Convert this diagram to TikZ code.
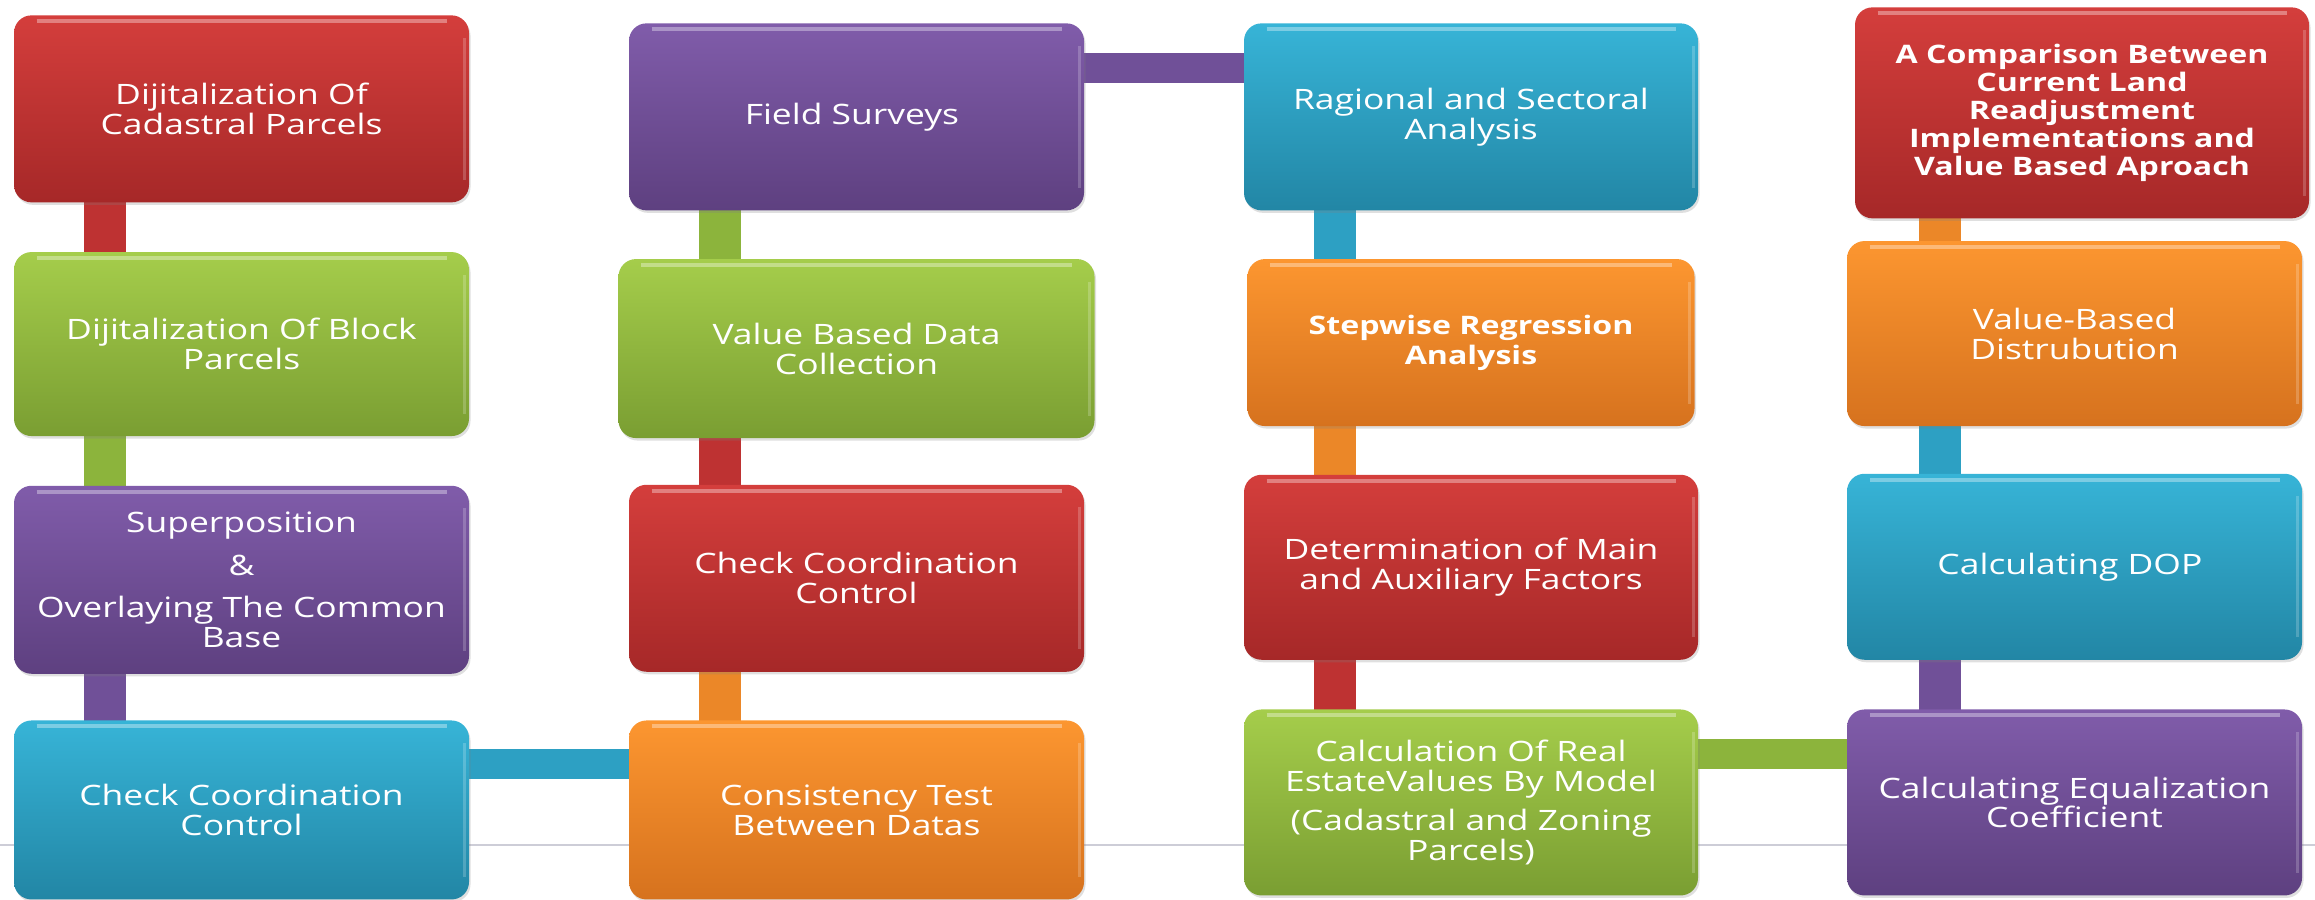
\documentclass[tikz,border=0pt]{standalone}
\usepackage{fontspec}
\newfontfamily\boxfont{Open Sans}[FakeStretch=1.26]
\usepackage{tikz}
\usetikzlibrary{
  positioning,
  calc,
  backgrounds,
  shadows
}
\definecolor{redtop}{RGB}{212, 62, 60}
\definecolor{redbot}{RGB}{166, 40, 40}
\definecolor{redbar}{RGB}{190, 50, 50}
\definecolor{greentop}{RGB}{165, 205, 75}
\definecolor{greenbot}{RGB}{122, 158, 50}
\definecolor{greenbar}{RGB}{140, 180, 60}
\definecolor{purpletop}{RGB}{128, 92, 170}
\definecolor{purplebot}{RGB}{94, 64, 128}
\definecolor{purplebar}{RGB}{112, 80, 152}
\definecolor{bluetop}{RGB}{55, 180, 215}
\definecolor{bluebot}{RGB}{34, 134, 165}
\definecolor{bluebar}{RGB}{45, 160, 195}
\definecolor{orangetop}{RGB}{252, 150, 48}
\definecolor{orangebot}{RGB}{214, 114, 30}
\definecolor{orangebar}{RGB}{235, 135, 40}
\definecolor{rulecolor}{RGB}{205, 205, 215}
\tikzset{
boxtext/.style={
  align=center,
  text=white,
  font=\boxfont\fontsize{16}{17}\selectfont
},
blockbase/.style={
  rectangle,
  rounded corners=0.35cm,
  minimum width=9.10cm,
  minimum height=3.74cm,
  inner sep=0pt,
  drop shadow={opacity=0.25, shadow xshift=0.03cm, shadow yshift=-0.05cm},
  % brilho fino no topo e na borda direita
  path picture={
    \draw[white, opacity=0.35, line width=0.08cm]
      ([xshift=0.45cm, yshift=-0.12cm]path picture bounding box.north west) --
      ([xshift=-0.45cm, yshift=-0.12cm]path picture bounding box.north east);
    \draw[white, opacity=0.2, line width=0.06cm]
      ([xshift=-0.1cm, yshift=-0.45cm]path picture bounding box.north east) --
      ([xshift=-0.1cm, yshift=0.45cm]path picture bounding box.south east);
  },
  boxtext
},
redblock/.style={blockbase, top color=redtop, bottom color=redbot},
greenblock/.style={blockbase, top color=greentop, bottom color=greenbot},
purpleblock/.style={blockbase, top color=purpletop, bottom color=purplebot},
blueblock/.style={blockbase, top color=bluetop, bottom color=bluebot},
orangeblock/.style={blockbase, top color=orangetop, bottom color=orangebot},
vbar/.style={
  draw=#1,
  line width=0.84cm,
  shorten <=-0.1cm,
  shorten >=-0.1cm
},
hbar/.style={
  draw=#1,
  line width=0.6cm,
  shorten <=-0.1cm,
  shorten >=-0.1cm
},
footrule/.style={
  draw=rulecolor,
  line width=0.04cm
}
}

\begin{document}
\begin{tikzpicture}

\useasboundingbox (0,0) rectangle (46.3,-17.98);

% ============================================================================
% Coluna 1: digitalizacao
% ============================================================================

\node[redblock, anchor=north] (cadastral) at (4.83,-0.30) {
    Dijitalization Of\\Cadastral Parcels
};
\node[greenblock, minimum height=3.68cm, below=0.98cm of cadastral] (blockparc) {
    Dijitalization Of Block\\Parcels
};
\node[purpleblock, minimum height=3.76cm, below=0.98cm of blockparc] (superpos) {
    Superposition\\[7pt]\&\\[7pt]Overlaying The Common\\Base
};
\node[blueblock, minimum height=3.58cm, below=0.92cm of superpos] (checkA) {
    Check Coordination\\Control
};

% ============================================================================
% Coluna 2: coleta de dados
% ============================================================================

\node[purpleblock, anchor=north] (field) at (17.13,-0.46) {
    Field Surveys
};
\node[greenblock, minimum width=9.52cm, minimum height=3.58cm, below=0.96cm of field] (valuedata) {
    Value Based Data\\Collection
};
\node[redblock, below=0.92cm of valuedata] (checkB) {
    Check Coordination\\Control
};
\node[orangeblock, minimum height=3.58cm, below=0.96cm of checkB] (consist) {
    Consistency Test\\Between Datas
};

% ============================================================================
% Coluna 3: analise e modelo
% ============================================================================

\node[blueblock, anchor=north, minimum width=9.08cm] (regional) at (29.42,-0.46) {
    Ragional and Sectoral\\Analysis
};
\node[orangeblock, font=\boxfont\bfseries\fontsize{14.5}{17}\selectfont, minimum width=8.94cm, minimum height=3.34cm, below=0.96cm of regional] (stepwise) {
    Stepwise Regression\\Analysis
};
\node[redblock, minimum width=9.08cm, minimum height=3.70cm, below=0.96cm of stepwise] (factors) {
    Determination of Main\\and Auxiliary Factors
};
\node[greenblock, minimum width=9.08cm, minimum height=3.72cm, below=0.98cm of factors] (estate) {
    Calculation Of Real\\EstateValues By Model\\[5pt](Cadastral and Zoning\\Parcels)
};

% ============================================================================
% Coluna 4: distribuicao
% ============================================================================

\node[redblock, font=\boxfont\bfseries\fontsize{14.5}{16}\selectfont, anchor=north, minimum width=9.08cm, minimum height=4.22cm] (compare) at (41.64,-0.14) {
    A Comparison Between\\Current Land\\Readjustment\\Implementations and\\Value Based Aproach
};
\node[orangeblock, minimum height=3.70cm, below=0.44cm of compare, xshift=-0.15cm] (distrib) {
    Value-Based\\Distrubution
};
\node[blueblock, minimum height=3.72cm, below=0.94cm of distrib] (dop) {
    Calculating DOP
};
\node[purpleblock, minimum height=3.72cm, below=0.98cm of dop] (equal) {
    Calculating Equalization\\Coefficient
};

% ============================================================================
% Barras de ligacao (atras dos blocos)
% ============================================================================

\begin{scope}[on background layer]
% Linha de rodape
\draw[footrule] (0,-16.90) -- (46.3,-16.90);

% Coluna 1 (para baixo)
\draw[vbar=redbar] ($(cadastral.south west)!.2!(cadastral.south east)$) coordinate (t) -- (t |- blockparc.north);
\draw[vbar=greenbar] ($(blockparc.south west)!.2!(blockparc.south east)$) coordinate (t) -- (t |- superpos.north);
\draw[vbar=purplebar] ($(superpos.south west)!.2!(superpos.south east)$) coordinate (t) -- (t |- checkA.north);

% Coluna 1 -> Coluna 2
\draw[hbar=bluebar] ([yshift=-0.88cm]checkA.north east) coordinate (t) -- (t -| consist.west);

% Coluna 2 (para cima)
\draw[vbar=orangebar] ($(consist.north west)!.2!(consist.north east)$) coordinate (t) -- (t |- checkB.south);
\draw[vbar=redbar] ($(checkB.north west)!.2!(checkB.north east)$) coordinate (t) -- (t |- valuedata.south);
\draw[vbar=greenbar] ($(field.south west)!.2!(field.south east)$) coordinate (t) -- (t |- valuedata.north);

% Coluna 2 -> Coluna 3
\draw[hbar=purplebar] ([yshift=-0.90cm]field.north east) coordinate (t) -- (t -| regional.west);

% Coluna 3 (para baixo)
\draw[vbar=bluebar] ($(regional.south west)!.2!(regional.south east)$) coordinate (t) -- (t |- stepwise.north);
\draw[vbar=orangebar] ($(factors.north west)!.2!(factors.north east)$) coordinate (t) -- (t |- stepwise.south);
\draw[vbar=redbar] ($(factors.south west)!.2!(factors.south east)$) coordinate (t) -- (t |- estate.north);

% Coluna 3 -> Coluna 4
\draw[hbar=greenbar] ([yshift=-0.90cm]estate.north east) coordinate (t) -- (t -| equal.west);

% Coluna 4 (para cima)
\draw[vbar=purplebar] ($(equal.north west)!.205!(equal.north east)$) coordinate (t) -- (t |- dop.south);
\draw[vbar=bluebar] ($(dop.north west)!.205!(dop.north east)$) coordinate (t) -- (t |- distrib.south);
\draw[vbar=orangebar] ($(distrib.north west)!.205!(distrib.north east)$) coordinate (t) -- (t |- compare.south);
\end{scope}

\end{tikzpicture}
\end{document}
